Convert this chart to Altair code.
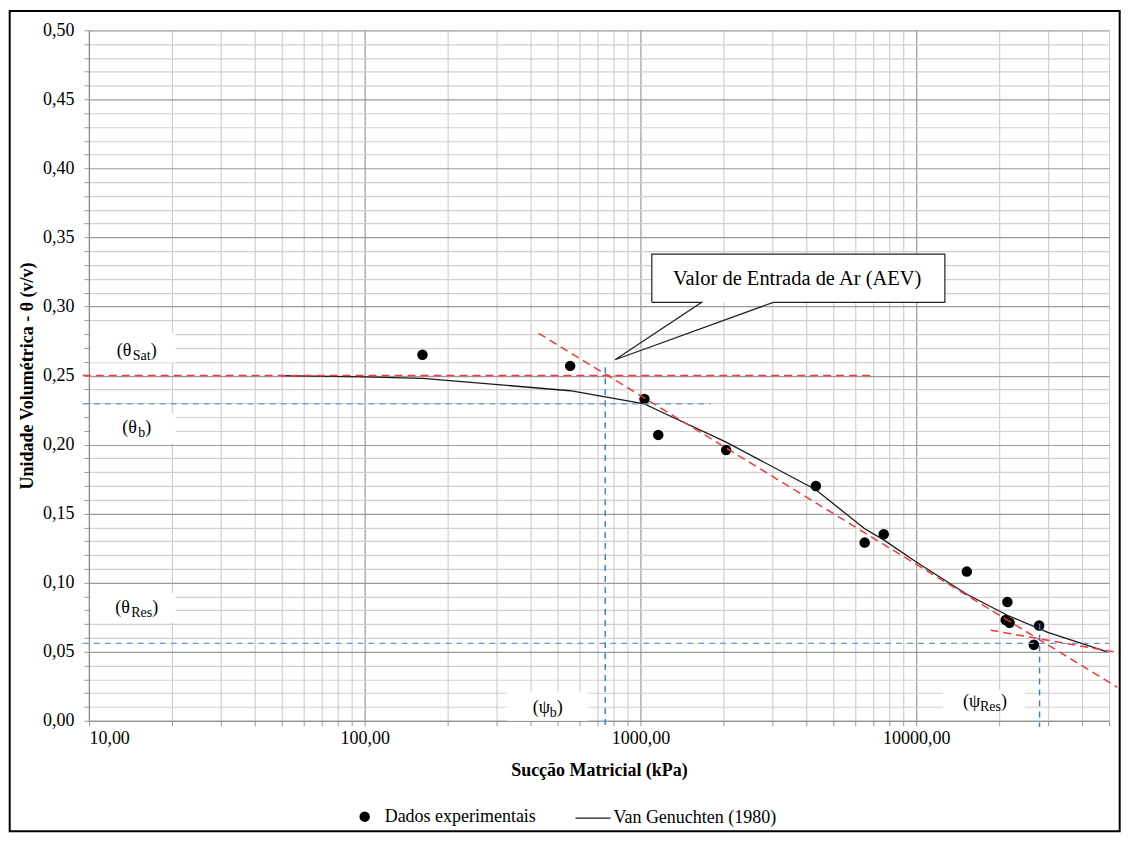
import altair as alt
import pandas as pd

FONT = "Liberation Serif"

# ---------------- data ----------------
# Experimental points (suction kPa, volumetric water content)
succao_exp = [162, 556, 1034, 1160, 2045, 4325, 6500, 7620, 15250, 21100, 21400, 21800, 26700, 27900]
theta_exp = [0.265, 0.257, 0.233, 0.207, 0.196, 0.170, 0.129, 0.135, 0.108, 0.073, 0.086, 0.071, 0.055, 0.069]

# Van Genuchten (1980) fitted curve
succao_vg = [50, 100, 162, 556, 1034, 1160, 2045, 4325, 6500, 7620, 10000, 15250, 21400, 30000, 49000]
theta_vg = [0.250, 0.249, 0.248, 0.239, 0.2295, 0.2247, 0.2018, 0.1673, 0.139, 0.131, 0.115, 0.0916, 0.0764, 0.0640, 0.0500]

serie_exp = ["Dados experimentais"]
serie_vg = ["Van Genuchten (1980)"]

# Red dashed construction lines
red_x1 = [9.5, 427, 18600]
red_x2 = [7000, 53600, 55000]
red_y1 = [0.25, 0.2806, 0.0656]
red_y2 = [0.25, 0.0242, 0.0490]

# Blue dashed horizontal lines (theta_b, theta_res)
bh_x1 = [9.5, 9.5]
bh_x2 = [1800, 50000]
bh_y = [0.2295, 0.0560]

# Blue dashed vertical lines (psi_b, psi_res)
bv_x = [745, 28000]
bv_y1 = [0.256, 0.0704]
bv_y2 = [-0.004, -0.0045]

# White label backgrounds
box_x1 = [10.1, 10.1, 10.1, 328, 12500]
box_x2 = [20.6, 20.6, 20.6, 649, 24800]
box_y1 = [0.2594, 0.2008, 0.0714, 0.0, 0.0092]
box_y2 = [0.2810, 0.2225, 0.0924, 0.021, 0.0222]

# Labels
lab_main = ["(θ", "(θ", "(θ", "(ψ", "(ψ"]
lab_sub = ["Sat", "b", "Res", "b", "Res"]
lab_x = [14.9, 14.9, 14.9, 461, 17740]
lab_y = [0.268, 0.2117, 0.0815, 0.0092, 0.0137]

# Callout "Valor de Entrada de Ar (AEV)"
call_text = "Valor de Entrada de Ar (AEV)"
call_box_x = [1099, 12700]
call_box_y = [0.303, 0.338]
call_path_x = [1099, 1099, 12700, 12700, 3033, 809, 1667, 1099]
call_path_y = [0.303, 0.338, 0.338, 0.303, 0.303, 0.2614, 0.303, 0.303]
call_text_x = 3700
call_text_y = 0.3199

# Axis ticks
x_major = [10, 100, 1000, 10000]
x_ticks = sorted(set([m * d for d in x_major for m in range(1, 10) if m * d <= 50000] + [50000]))
y_ticks = [round(i * 0.01, 2) for i in range(51)]

# ---------------- scales / axes ----------------
xscale = alt.Scale(type="log", domain=[10, 50000], nice=False)
yscale = alt.Scale(domain=[0, 0.5], nice=False, zero=False)

x_major_test = "abs(log(datum.value)/LN10 - round(log(datum.value)/LN10)) < 1e-6"
y_major_test = "round(datum.value*100) % 5 == 0"

xaxis = alt.Axis(
    values=x_ticks,
    title="Sucção Matricial (kPa)",
    labelExpr=f"({x_major_test}) ? replace(format(datum.value, '.2f'), '.', ',') : ''",
    labelOverlap=False,
    labelFont=FONT, labelFontSize=18, labelColor="black", labelPadding=4,
    titleFont=FONT, titleFontSize=18, titleFontWeight="bold", titleColor="black", titlePadding=14,
    grid=True,
    gridColor={"condition": {"test": x_major_test, "value": "#9a9a9a"}, "value": "#d0d0d0"},
    gridWidth=1.2,
    tickColor="#9a9a9a", tickSize=5,
    domainColor="#8c8c8c", domainWidth=1.2,
)
yaxis = alt.Axis(
    values=y_ticks,
    title="Unidade Volumétrica - θ (v/v)",
    labelExpr=f"({y_major_test}) ? replace(format(datum.value, '.2f'), '.', ',') : ''",
    labelOverlap=False,
    labelFont=FONT, labelFontSize=18, labelColor="black", labelPadding=10,
    titleFont=FONT, titleFontSize=18, titleFontWeight="bold", titleColor="black", titlePadding=6,
    grid=True,
    gridColor={"condition": {"test": y_major_test, "value": "#9a9a9a"}, "value": "#d0d0d0"},
    gridWidth=1.2,
    tickColor="#9a9a9a", tickSize=5,
    domainColor="#8c8c8c", domainWidth=1.2,
)


def X(f):
    return alt.X(f, type="quantitative", scale=xscale, axis=xaxis)


def Y(f):
    return alt.Y(f, type="quantitative", scale=yscale, axis=yaxis)


# ---------------- tables ----------------
df_exp = pd.DataFrame({"suc": succao_exp, "theta": theta_exp, "serie": serie_exp[0]})
df_vg = pd.DataFrame({"suc": succao_vg, "theta": theta_vg, "modelo": serie_vg[0]})
df_red = pd.DataFrame({"x1": red_x1, "x2": red_x2, "y1": red_y1, "y2": red_y2})
df_bh = pd.DataFrame({"x1": bh_x1, "x2": bh_x2, "y1": bh_y})
df_bv = pd.DataFrame({"x1": bv_x, "y1": bv_y1, "y2": bv_y2})
df_box = pd.DataFrame({"x1": box_x1, "x2": box_x2, "y1": box_y1, "y2": box_y2})
df_cbox = pd.DataFrame({"x1": [call_box_x[0]], "x2": [call_box_x[1]], "y1": [call_box_y[0]], "y2": [call_box_y[1]]})
df_cpath = pd.DataFrame({"x1": call_path_x, "y1": call_path_y, "i": list(range(len(call_path_x)))})
df_ctext = pd.DataFrame({"x1": [call_text_x], "y1": [call_text_y], "t": [call_text]})
df_one = pd.DataFrame({"a": [0]})

# ---------------- layers ----------------
boxes = alt.Chart(df_box).mark_rect(color="white", opacity=1).encode(
    x=X("x1"), x2="x2", y=Y("y1"), y2="y2")

points = alt.Chart(df_exp).mark_point(
    filled=True, color="black", opacity=1, size=110
).encode(
    x=X("suc"), y=Y("theta"),
    shape=alt.Shape("serie:N",
                    scale=alt.Scale(domain=serie_exp, range=["circle"]),
                    legend=alt.Legend(orient="none", legendX=267, legendY=778,
                                      title=None, labelFont=FONT, labelFontSize=18, labelColor="black",
                                      symbolSize=110, symbolFillColor="black",
                                      labelOffset=11, labelLimit=400)),
)

vg_line = alt.Chart(df_vg).mark_line(strokeWidth=1.3).encode(
    x=X("suc"), y=Y("theta"),
    color=alt.Color("modelo:N",
                    scale=alt.Scale(domain=serie_vg, range=["#1a1a1a"]),
                    legend=alt.Legend(orient="none", legendX=486, legendY=770,
                                      title=None, labelFont=FONT, labelFontSize=18, labelColor="black",
                                      symbolType="stroke", symbolSize=1225, symbolStrokeWidth=1.2,
                                      labelOffset=2, labelLimit=400)),
)

red = alt.Chart(df_red).mark_rule(color="#f23a3a", strokeWidth=1.5, strokeDash=[8, 5]).encode(
    x=X("x1"), x2="x2", y=Y("y1"), y2="y2")
blue_h = alt.Chart(df_bh).mark_rule(color="#7392d4", strokeWidth=1.4, strokeDash=[6, 5]).encode(
    x=X("x1"), x2="x2", y=Y("y1"))
blue_v = alt.Chart(df_bv).mark_rule(color="#2f80d0", strokeWidth=1.4, strokeDash=[6, 5]).encode(
    x=X("x1"), y=Y("y1"), y2="y2")

call_fill = alt.Chart(df_cbox).mark_rect(color="white", opacity=1).encode(
    x=X("x1"), x2="x2", y=Y("y1"), y2="y2")
call_outline = alt.Chart(df_cpath).mark_line(color="#222222", strokeWidth=1.2).encode(
    x=X("x1"), y=Y("y1"), order=alt.Order("i:Q"))
call_label = alt.Chart(df_ctext).mark_text(
    font=FONT, fontSize=20.5, color="black", align="center", baseline="middle"
).encode(x=X("x1"), y=Y("y1"), text="t:N")

sub_w = {"Sat": 18, "b": 7, "Res": 21}
main_w = {"(θ": 16, "(ψ": 17}
close_w = 6
label_layers = []
for m, s, lx, ly in zip(lab_main, lab_sub, lab_x, lab_y):
    d = pd.DataFrame({"x1": [lx], "y1": [ly], "m": [m], "s": [s], "c": [")"]})
    w = main_w[m] + sub_w[s] + close_w
    start = -w / 2
    base = alt.Chart(d)
    label_layers.append(base.mark_text(font=FONT, fontSize=18, color="black", align="left",
                                       baseline="middle", dx=start).encode(x=X("x1"), y=Y("y1"), text="m:N"))
    label_layers.append(base.mark_text(font=FONT, fontSize=14, color="black", align="left",
                                       baseline="middle", dx=start + main_w[m], dy=5).encode(x=X("x1"), y=Y("y1"), text="s:N"))
    label_layers.append(base.mark_text(font=FONT, fontSize=18, color="black", align="left",
                                       baseline="middle", dx=start + main_w[m] + sub_w[s]).encode(x=X("x1"), y=Y("y1"), text="c:N"))

frame = alt.Chart(df_one).mark_rect(filled=False, stroke="black", strokeWidth=2).encode(
    x=alt.value(-79.3), x2=alt.value(1031.7), y=alt.value(-19.3), y2=alt.value(801.7))

chart = alt.layer(
    boxes, points, vg_line, red, blue_h, blue_v, call_fill, call_outline, call_label,
    *label_layers, frame
).properties(
    width=1021, height=691,
    padding={"left": 0, "top": 1, "right": 0, "bottom": 0},
    background="white",
).configure_view(strokeWidth=0)

chart.save("out.html", embed_options={"renderer": "svg", "actions": False})
